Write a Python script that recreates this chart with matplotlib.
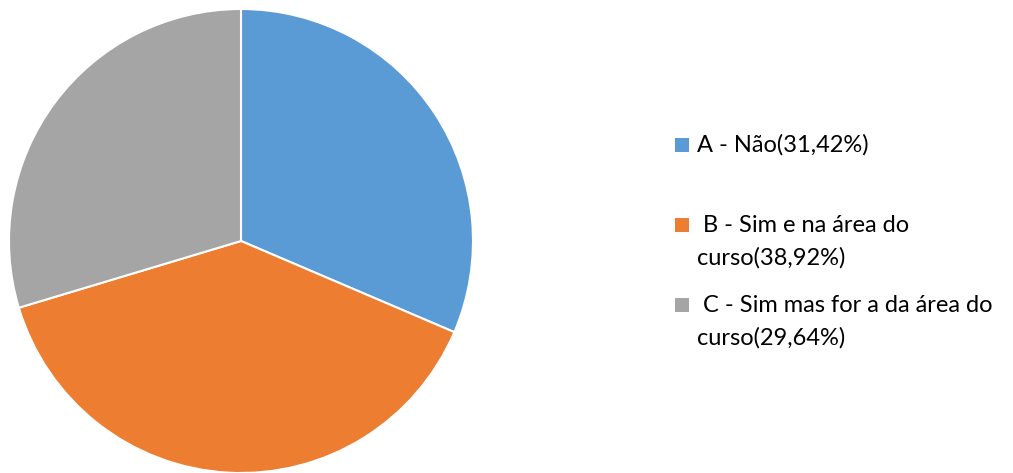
import matplotlib
matplotlib.use("Agg")
import matplotlib.pyplot as plt
from matplotlib.patches import Rectangle

plt.rcParams['font.family'] = ['Lato', 'DejaVu Sans']

labels = ["A - Não(31,42%)", " B - Sim e na área do\ncurso(38,92%)", " C - Sim mas for a da área do\ncurso(29,64%)"]
values = [31.42, 38.92, 29.64]
colors = ["#5B9BD5", "#ED7D31", "#A5A5A5"]

W, H = 1013, 473
fig = plt.figure(figsize=(W/100, H/100), dpi=100)
ax = fig.add_axes([9/W, 0, 464/W, 464/H])
ax.pie(values, colors=colors, startangle=90, counterclock=False,
       wedgeprops=dict(edgecolor="white", linewidth=1.5))
ax.set_xlim(-1.0, 1.0)
ax.set_ylim(-1.0, 1.0)

# legend drawn by hand to keep the Excel-like spacing
baselines = [152, 232, 312]
for lab, col, yb in zip(labels, colors, baselines):
    fig.patches.append(Rectangle((675/W, 1 - yb/H), 14/W, 14/H,
                                 transform=fig.transFigure, facecolor=col, edgecolor="none"))
    for k, line in enumerate(lab.split("\n")):
        fig.text(697/W, 1 - (yb + 33*k)/H, line, fontsize=17, va="baseline", ha="left",
                 color="#000000")

fig.savefig("out.png", dpi=100)
